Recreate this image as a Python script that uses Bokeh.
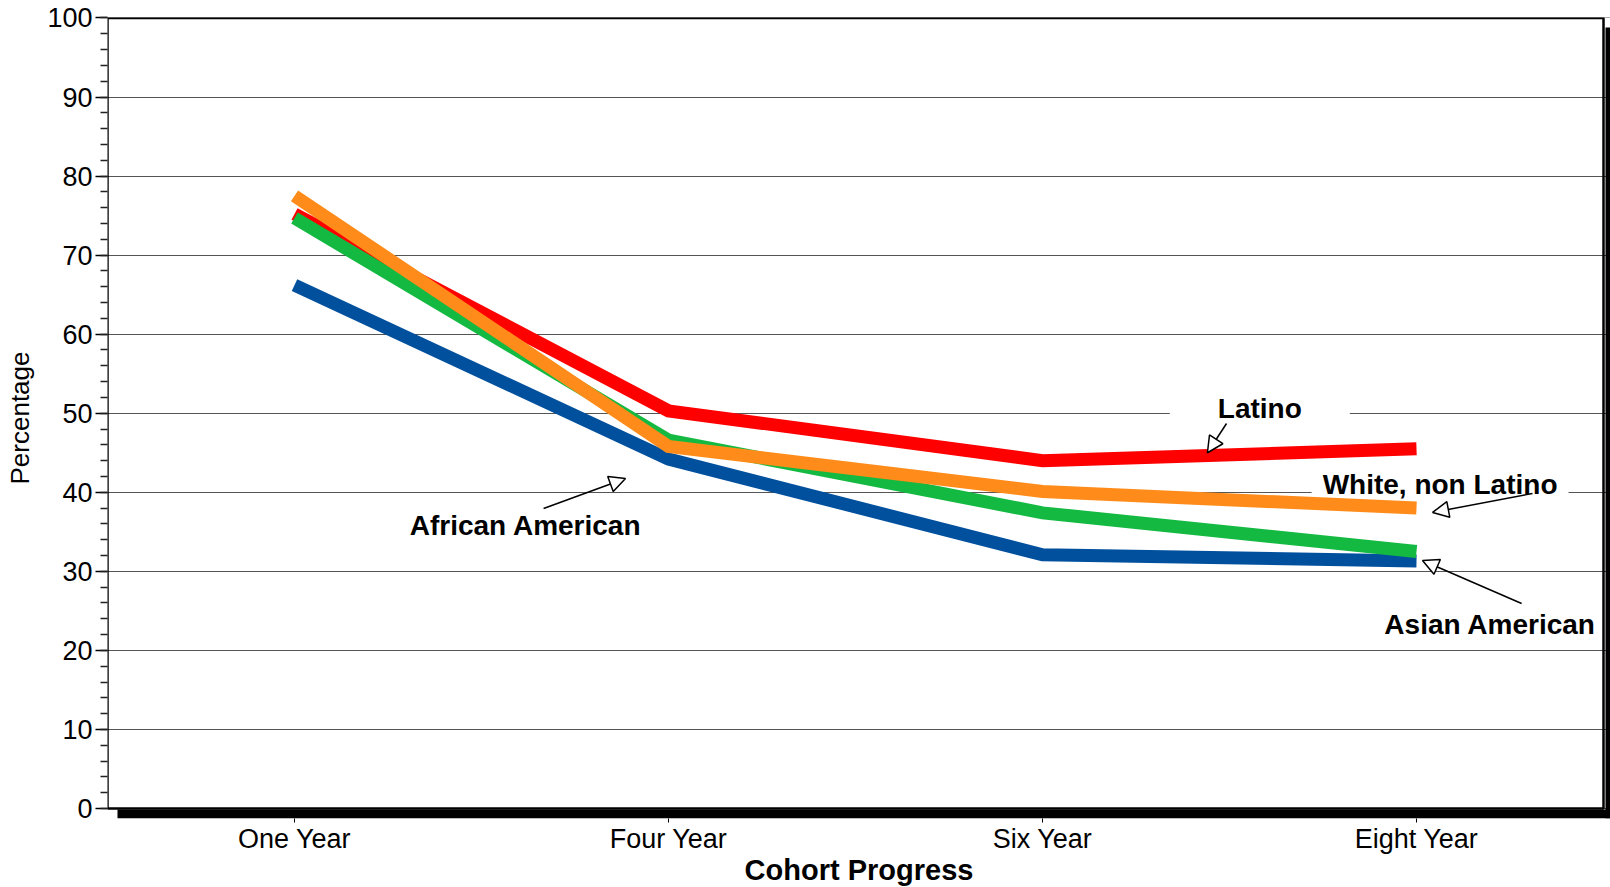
from bokeh.plotting import figure
from bokeh.models import (Range1d, FixedTicker, SingleIntervalTicker, BoxAnnotation,
                          Label, Arrow, NormalHead)
from bokeh.embed import file_html
from bokeh.resources import INLINE

# ---- data ----
categories = ["One Year", "Four Year", "Six Year", "Eight Year"]
latino = [75.2, 50.3, 44.0, 45.5]
white_non_latino = [77.5, 45.8, 40.1, 38.0]
asian_american = [74.7, 46.6, 37.4, 32.5]
african_american = [66.2, 44.2, 32.1, 31.3]
y_tick_interval = 10

FONT = "Liberation Sans"

xs = [i + 0.5 for i in range(len(categories))]

p = figure(frame_width=1503, frame_height=801, output_backend="svg", toolbar_location=None,
           x_range=Range1d(0, 4.0187), y_range=Range1d(-1.265, 100.06),
           min_border_left=107, min_border_right=0, min_border_top=17,
           min_border_bottom=69)
p.outline_line_color = None
p.background_fill_color = "white"
p.border_fill_color = "white"

# x axis
xa = p.xaxis[0]
xa.ticker = FixedTicker(ticks=xs)
xa.major_label_overrides = {x: c for x, c in zip(xs, categories)}
xa.axis_line_color = None
xa.major_tick_out = 4
xa.major_tick_in = 0
xa.minor_tick_line_color = None
xa.major_tick_line_color = "black"
xa.major_label_standoff = 1
xa.major_label_text_font = FONT
xa.major_label_text_font_size = "27px"
xa.major_label_text_color = "black"
xa.axis_label = "Cohort Progress"
xa.axis_label_text_font = FONT
xa.axis_label_text_font_size = "29px"
xa.axis_label_text_font_style = "bold"
xa.axis_label_text_color = "black"
xa.axis_label_standoff = -3

# y axis
ya = p.yaxis[0]
ya.ticker = SingleIntervalTicker(interval=y_tick_interval, num_minor_ticks=5)
ya.bounds = (0, 100)
ya.axis_line_color = None
ya.major_tick_out = 12
ya.major_tick_in = 0
ya.minor_tick_out = 7
ya.minor_tick_in = 0
ya.major_tick_line_color = "black"
ya.major_tick_line_width = 1.5
ya.minor_tick_line_color = "#222222"
ya.minor_tick_line_width = 1.5
ya.major_label_standoff = 3
ya.major_label_text_font = FONT
ya.major_label_text_font_size = "27px"
ya.major_label_text_color = "black"
ya.axis_label = "Percentage"
ya.axis_label_text_font = FONT
ya.axis_label_text_font_size = "26px"
ya.axis_label_text_font_style = "normal"
ya.axis_label_text_color = "black"
ya.axis_label_standoff = 9

p.xgrid.visible = False
p.ygrid.grid_line_color = "#555555"
p.ygrid.grid_line_width = 1.2

# ---- annotation texts (white backgrounds open gaps in the grid lines) ----
label_style = dict(text_align="center", text_baseline="middle", text_font=FONT,
                   text_font_size="28px", text_font_style="bold", text_color="black")

p.add_layout(Label(x=3.081, y=50.66, text="Latino", background_fill_color="white",
                   padding=48, level="underlay", **label_style))
p.add_layout(Label(x=3.563, y=40.99, text="White, non Latino", background_fill_color="white",
                   padding=11, level="underlay", **label_style))
p.add_layout(Label(x=3.697, y=23.28, text="Asian American", **label_style))
p.add_layout(Label(x=1.118, y=35.74, text="African American", **label_style))

# ---- series lines ----
series = [
    (african_american, "#00509E"),
    (latino, "#FF0000"),
    (asian_american, "#14B941"),
    (white_non_latino, "#FF8C1A"),
]
for vals, col in series:
    p.line(xs, vals, line_width=13, line_color=col, line_join="miter", line_cap="butt")

# ---- arrows ----
arrows = [
    (2.992, 48.7, 2.941, 45.0),
    (3.810, 39.85, 3.543, 37.45),
    (3.781, 25.93, 3.516, 31.37),
    (1.166, 37.95, 1.385, 41.75),
]
for x0, y0, x1, y1 in arrows:
    p.add_layout(Arrow(end=NormalHead(size=16, fill_color="white", line_color="black",
                                      line_width=1.5),
                       x_start=x0, y_start=y0, x_end=x1, y_end=y1,
                       line_color="black", line_width=1.5))

# ---- frame outline and drop shadow ----
p.add_layout(BoxAnnotation(left=0, right=4, bottom=0, top=100, fill_color=None,
                           line_color="black", line_alpha=1, line_width=2.5))
p.add_layout(BoxAnnotation(left=4.0053, top=98.8, fill_color="black", fill_alpha=1,
                           line_color=None))
p.add_layout(BoxAnnotation(left=0.0267, top=-0.13, fill_color="black", fill_alpha=1,
                           line_color=None))

open("out.html", "w").write(file_html(p, INLINE))
